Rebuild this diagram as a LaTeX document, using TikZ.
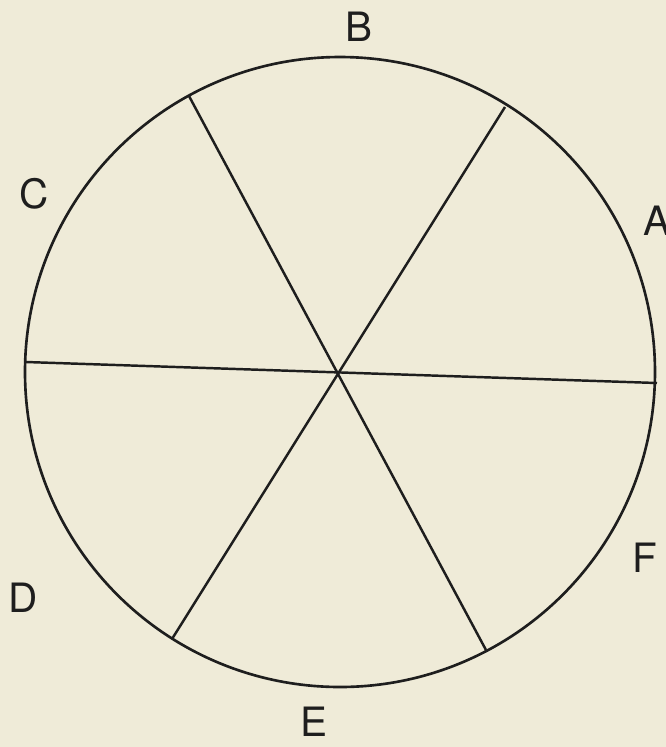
\documentclass[tikz,border=0pt]{standalone}
\usepackage{fontspec}
\setmainfont{TeX Gyre Heros}
\usepackage{tikz}
\usetikzlibrary{calc}
\definecolor{paper}{RGB}{239,235,216}
\definecolor{ink}{RGB}{30,30,30}
\tikzset{
  rim/.style={draw=ink, line width=0.75pt},
  spoke/.style={draw=ink, line width=0.7pt},
  sectlabel/.style={font=\fontsize{11.5}{13}\selectfont, text=ink, inner sep=0pt}
}

\begin{document}
\begin{tikzpicture}[x=0.01cm, y=-0.01cm]
    % paper and frame of the picture
    \fill[paper] (0,0) rectangle (666,747);
    \useasboundingbox (0,0) rectangle (666,747);

    \coordinate (o) at (340,372);
    \draw[rim] (o) circle[radius=315];

    % ends of the three diameters on the rim
    \coordinate (ab) at (505,107);
    \coordinate (bc) at (189,96);
    \coordinate (cd) at (26,362);
    \coordinate (de) at (172,639);
    \coordinate (ef) at (486,650);
    \coordinate (fa) at (657,383);

    \draw[spoke] (cd)--(fa);
    \draw[spoke] (bc)--(ef);
    \draw[spoke] (ab)--(de);

    \node[sectlabel] (la) at (657,221) {A};
    \node[sectlabel] (lb) at (359,27) {B};
    \node[sectlabel] (lc) at (34,194) {C};
    \node[sectlabel] (ld) at (23,598) {D};
    \node[sectlabel] (le) at (314,722) {E};
    \node[sectlabel] (lf) at (645,558) {F};
  \end{tikzpicture}
\end{document}
